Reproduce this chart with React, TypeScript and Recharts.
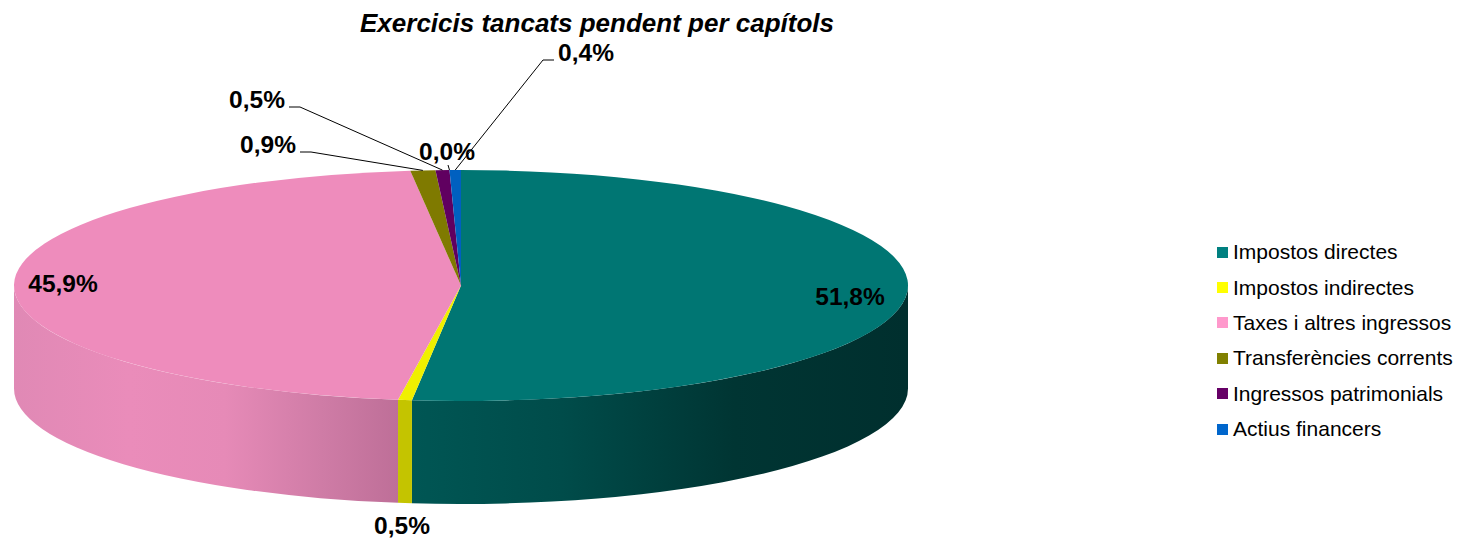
import React from "react";
import { PieChart, Pie, Legend } from "recharts";

const categories = [
  "Impostos directes",
  "Impostos indirectes",
  "Taxes i altres ingressos",
  "Transferències corrents",
  "Ingressos patrimonials",
  "Altres",
  "Actius financers",
];
const legendCategories = categories.filter((c) => c !== "Altres");
const values = [51.75, 0.5, 45.94, 0.9, 0.5, 0.0, 0.41];
const valueLabels = ["51,8%", "0,5%", "45,9%", "0,9%", "0,5%", "0,0%", "0,4%"];
const legendColors = ["#008080", "#ffff00", "#ff99cc", "#808000", "#660066", "#999999", "#0066cc"];
const topColors = ["#007673", "#f0f000", "#ee8cbc", "#7f7a00", "#600060", "#999999", "#0060c0"];

const FONT = "'Liberation Sans', Arial, sans-serif";
const W = 1466;
const H = 544;
const CX = 461;
const CY = 285.5;
const RX = 447;
const RY = 115.5;
const DEPTH = 103;
const RAD = Math.PI / 180;

const wallStops: Record<number, { x1: number; x2: number; stops: [number, string][] }> = {
  0: {
    x1: 413,
    x2: 908,
    stops: [
      [0, "#005654"],
      [0.3, "#004c4a"],
      [0.65, "#003533"],
      [1, "#002f2e"],
    ],
  },
  1: { x1: 398, x2: 413, stops: [[0, "#c4c400"], [1, "#c4c400"]] },
  2: {
    x1: 14,
    x2: 398,
    stops: [
      [0, "#e089b5"],
      [0.3, "#ea8cba"],
      [0.55, "#e68ab7"],
      [0.8, "#cf7ca6"],
      [1, "#be6f98"],
    ],
  },
};

const labelPositions: { x: number; y: number; leader?: [number, number][] }[] = [
  { x: 850, y: 296.5 },
  { x: 402, y: 525.5 },
  { x: 63, y: 283.5 },
  { x: 268, y: 144.5, leader: [[300, 152], [311, 152]] },
  { x: 257, y: 99.5, leader: [[289, 107], [300, 107]] },
  { x: 447, y: 151.5, leader: [[448, 165]] },
  { x: 586, y: 52.5, leader: [[554, 60], [543, 60]] },
];

const rim = (angle: number, drop = 0): [number, number] => [
  CX + RX * Math.cos(-angle * RAD),
  CY + RY * Math.sin(-angle * RAD) + drop,
];

const Slab = (props: any) => {
  const { startAngle, endAngle, index, fill } = props;
  if (Math.abs(startAngle - endAngle) < 0.001) return null;
  const [sx, sy] = rim(startAngle);
  const [ex, ey] = rim(endAngle);
  const large = Math.abs(startAngle - endAngle) > 180 ? 1 : 0;
  const top = `M${CX},${CY} L${sx},${sy} A${RX},${RY} 0 ${large} 1 ${ex},${ey} Z`;
  const a1 = Math.min(startAngle, 0);
  const a2 = Math.max(endAngle, -180);
  let wall: string | null = null;
  if (a1 > a2) {
    const [w1x, w1y] = rim(a1);
    const [w2x, w2y] = rim(a2);
    wall = `M${w1x},${w1y} A${RX},${RY} 0 0 1 ${w2x},${w2y} L${w2x},${w2y + DEPTH} A${RX},${RY} 0 0 0 ${w1x},${w1y + DEPTH} Z`;
  }
  const g = wallStops[index];
  const id = `wall-${index}`;
  return (
    <g>
      {wall && g && (
        <>
          <defs>
            <linearGradient id={id} gradientUnits="userSpaceOnUse" x1={g.x1} x2={g.x2} y1={0} y2={0}>
              {g.stops.map(([o, c]) => (
                <stop key={o} offset={o} stopColor={c} />
              ))}
            </linearGradient>
          </defs>
          <path d={wall} fill={`url(#${id})`} />
        </>
      )}
      <path d={top} fill={topColors[index] ?? fill} />
    </g>
  );
};

const SliceLabel = (props: any) => {
  const { index, midAngle } = props;
  const pos = labelPositions[index];
  const [ex, ey] = rim(midAngle);
  return (
    <g>
      {pos.leader && (
        <polyline
          points={[...pos.leader, [ex, ey]].map((p) => p.join(",")).join(" ")}
          fill="none"
          stroke="#000"
          strokeWidth={1}
        />
      )}
      <text
        x={pos.x}
        y={pos.y}
        textAnchor="middle"
        dominantBaseline="central"
        fontFamily={FONT}
        fontWeight="bold"
        fontSize={24.5}
        fill="#000"
      >
        {valueLabels[index]}
      </text>
    </g>
  );
};

const LegendBox = ({ payload }: any) => (
  <div style={{ fontFamily: FONT, fontSize: 21, color: "#000" }}>
    {(payload ?? [])
      .filter((e: any) => legendCategories.includes(e.value))
      .map((e: any) => (
        <div key={e.value} style={{ display: "flex", alignItems: "center", height: 35.4, whiteSpace: "nowrap" }}>
          <span style={{ width: 11, height: 11, background: e.color, marginRight: 5, flex: "none" }} />
          <span>{e.value}</span>
        </div>
      ))}
  </div>
);

const table = categories.map((name, i) => ({ name, value: values[i], fill: legendColors[i] }));

export default function App() {
  return (
    <div style={{ position: "absolute", left: 0, top: 0, width: W, height: H }}>
      <PieChart width={W} height={H} margin={{ top: 0, right: 0, bottom: 0, left: 0 }}>
        <text
          x={597}
          y={22.5}
          textAnchor="middle"
          dominantBaseline="central"
          fontFamily={FONT}
          fontWeight="bold"
          fontStyle="italic"
          fontSize={26}
          fill="#000"
        >
          Exercicis tancats pendent per capítols
        </text>
        <Pie
          data={table}
          dataKey="value"
          nameKey="name"
          cx={CX}
          cy={CY}
          innerRadius={0}
          outerRadius={RX}
          startAngle={90}
          endAngle={-270}
          paddingAngle={0}
          stroke="none"
          isAnimationActive={false}
          shape={Slab}
          label={SliceLabel}
          labelLine={false}
        />
        <Legend
          content={LegendBox}
          layout="vertical"
          itemSorter={null}
          wrapperStyle={{ position: "absolute", left: 1217, top: 234.5, width: 249, height: 213, bottom: "auto", right: "auto" }}
        />
      </PieChart>
    </div>
  );
}
